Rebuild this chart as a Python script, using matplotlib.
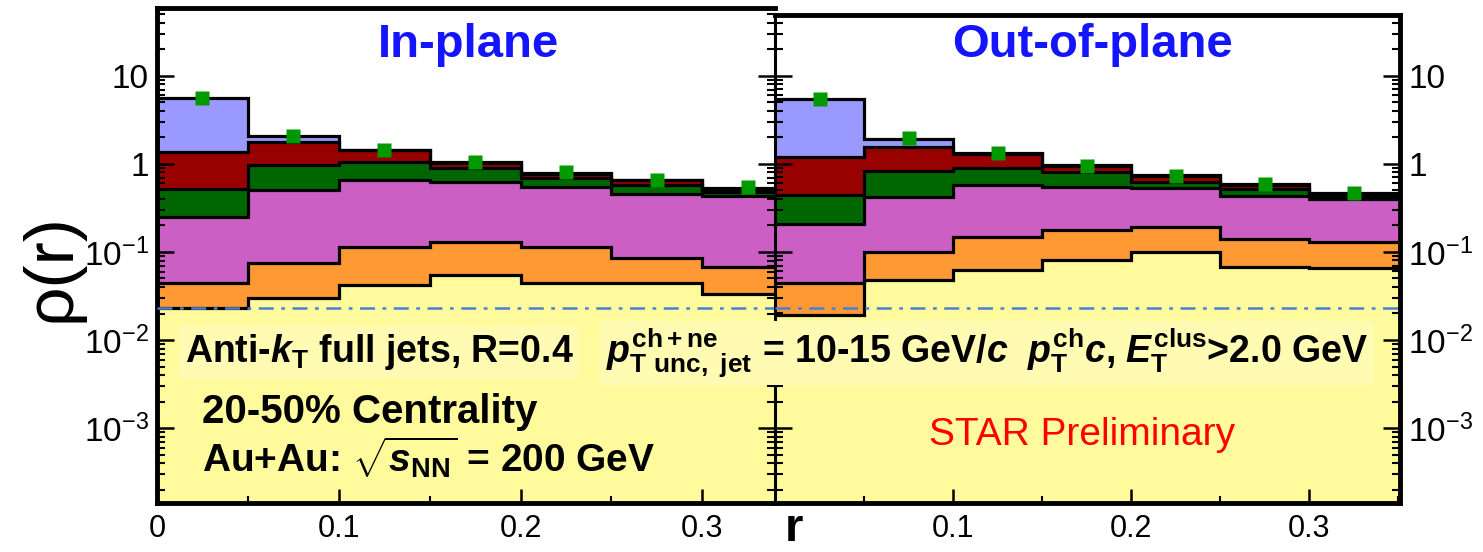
import numpy as np
import matplotlib
matplotlib.use("Agg")
import matplotlib.pyplot as plt
from matplotlib.ticker import FixedLocator, FixedFormatter, LogLocator, NullFormatter

plt.rcParams["font.family"] = ["Liberation Sans", "DejaVu Sans"]
plt.rcParams["mathtext.fontset"] = "custom"
plt.rcParams["mathtext.rm"] = "Liberation Sans:bold"
plt.rcParams["mathtext.it"] = "Liberation Sans:bold:italic"
plt.rcParams["mathtext.bf"] = "Liberation Sans:bold"

# bins in r
edges = np.linspace(0, 0.35, 8)
centers = 0.5 * (edges[:-1] + edges[1:])

# stacked contributions, bottom to top (in-plane)
in_yellow = [0.023, 0.030, 0.042, 0.055, 0.044, 0.044, 0.033]
in_orange = [0.022, 0.044, 0.073, 0.076, 0.071, 0.041, 0.035]
in_magenta = [0.205, 0.436, 0.545, 0.499, 0.435, 0.375, 0.362]
in_green = [0.27, 0.46, 0.38, 0.28, 0.14, 0.12, 0.055]
in_red = [0.86, 0.82, 0.40, 0.12, 0.08, 0.07, 0.04]
in_blue = [4.2, 0.31, 0.0, 0.03, 0.02, 0.01, 0.005]
in_total = [5.6, 2.1, 1.44, 1.04, 0.80, 0.65, 0.54]

# out-of-plane
out_yellow = [0.019, 0.048, 0.063, 0.081, 0.10, 0.068, 0.065]
out_orange = [0.025, 0.052, 0.086, 0.097, 0.09, 0.072, 0.066]
out_magenta = [0.166, 0.32, 0.431, 0.372, 0.34, 0.29, 0.269]
out_green = [0.23, 0.42, 0.31, 0.25, 0.10, 0.09, 0.03]
out_red = [0.76, 0.73, 0.41, 0.14, 0.09, 0.06, 0.03]
out_blue = [4.28, 0.35, 0.02, 0.02, 0.02, 0.01, 0.01]
out_total = [5.5, 1.95, 1.33, 0.95, 0.73, 0.59, 0.47]

ref_level = 0.023

layer_colors = ["#fffa9c", "#ff9933", "#cc5fc4", "#006600", "#990000", "#9999ff"]

ytick_vals = [1e-3, 1e-2, 1e-1, 1, 10]
ytick_labels = [r"$\mathdefault{10^{-3}}$", r"$\mathdefault{10^{-2}}$",
                r"$\mathdefault{10^{-1}}$", "1", "10"]

W, H = 1483, 552
fig = plt.figure(figsize=(W / 100, H / 100), dpi=100)
fig.patch.set_facecolor("white")

ax1 = fig.add_axes([157 / W, (H - 503) / H, 618 / W, 495 / H])
ax2 = fig.add_axes([775 / W, (H - 503) / H, 625 / W, 488 / H])


def draw_panel(ax, layers, total):
    bottom = np.full(len(centers), 1e-6)
    tops = []
    for vals, c in zip(layers, layer_colors):
        top = bottom + np.array(vals)
        ax.stairs(top, edges, baseline=bottom, fill=True, color=c, lw=0, zorder=1)
        tops.append(top)
        bottom = top
    for top in tops:
        ax.stairs(top, edges, baseline=None, color="black", lw=2.3, zorder=2)
    ax.axhline(ref_level, color="#4a7fd8", lw=1.8,
               ls=(0, (6, 3, 1.5, 3)), zorder=3)
    ax.plot(centers, total, "s", color="#009900", ms=10, mec="none", zorder=5)
    ax.set_yscale("log")
    ax.yaxis.set_major_locator(FixedLocator(ytick_vals))
    ax.yaxis.set_major_formatter(FixedFormatter(ytick_labels))
    ax.yaxis.set_minor_locator(LogLocator(base=10, subs=np.arange(2, 10), numticks=20))
    ax.yaxis.set_minor_formatter(NullFormatter())
    ax.xaxis.set_minor_locator(FixedLocator([0.05, 0.15, 0.25, 0.35]))
    ax.tick_params(axis="y", which="major", direction="in", length=12, width=1.8,
                   labelsize=24, pad=6)
    ax.tick_params(axis="y", which="minor", direction="in", length=6, width=1.5)
    ax.tick_params(axis="x", which="major", direction="in", length=10, width=1.8,
                   labelsize=22, pad=8)
    ax.tick_params(axis="x", which="minor", direction="in", length=5, width=1.5)
    for s in ax.spines.values():
        s.set_linewidth(3.5)


draw_panel(ax1, [in_yellow, in_orange, in_magenta, in_green, in_red, in_blue], in_total)
draw_panel(ax2, [out_yellow, out_orange, out_magenta, out_green, out_red, out_blue], out_total)

ax1.set_xlim(0, 0.34)
ax1.set_ylim(1.41e-4, 59)
ax1.xaxis.set_major_locator(FixedLocator([0, 0.1, 0.2, 0.3]))
ax1.xaxis.set_major_formatter(FixedFormatter(["0", "0.1", "0.2", "0.3"]))
ax1.tick_params(axis="y", which="both", left=True, right=True, labelleft=True, labelright=False)
ax1.spines["right"].set_visible(False)

ax2.set_xlim(0, 0.351)
ax2.set_ylim(1.41e-4, 49)
ax2.xaxis.set_major_locator(FixedLocator([0.1, 0.2, 0.3]))
ax2.xaxis.set_major_formatter(FixedFormatter(["0.1", "0.2", "0.3"]))
ax2.tick_params(axis="y", which="both", left=True, right=True, labelleft=False, labelright=True)
ax2.spines["left"].set_linewidth(2.2)


def fx(px):
    return px / W


def fy(py):
    return 1 - py / H


fig.text(fx(468), fy(45), "In-plane", color="#1414ff", fontsize=34,
         fontweight="bold", ha="center", va="center")
fig.text(fx(1092), fy(45), "Out-of-plane", color="#1414ff", fontsize=34,
         fontweight="bold", ha="center", va="center")

fig.text(fx(52), fy(268), "ρ(r)", rotation=90, fontsize=50, ha="center", va="center")
fig.text(fx(794), fy(551), "r", fontsize=34, fontweight="bold", ha="center", va="bottom")

box = dict(facecolor="#fffbb2", edgecolor="none", pad=4)
fig.text(fx(185), fy(362), r"Anti-$k_{\mathrm{T}}$ full jets, R=0.4", fontsize=27,
         fontweight="bold", va="baseline", bbox=box)
fig.text(fx(606), fy(362),
         r"$p^{\mathrm{ch+ne}}_{\mathrm{T\ unc,\ jet}}$ = 10-15 GeV/$c$  "
         r"$p^{\mathrm{ch}}_{\mathrm{T}}c$, $E^{\mathrm{clus}}_{\mathrm{T}}$>2.0 GeV",
         fontsize=27, fontweight="bold", va="baseline", bbox=box)
fig.text(fx(202), fy(423), "20-50% Centrality", fontsize=29, fontweight="bold",
         va="baseline")
fig.text(fx(202), fy(472), r"Au+Au: $\sqrt{s_{\mathrm{NN}}}$ = 200 GeV", fontsize=28,
         fontweight="bold", va="baseline")
fig.text(fx(1082), fy(445), "STAR Preliminary", fontsize=28, color="#ff0000",
         ha="center", va="baseline")

fig.savefig("out.png", dpi=100)
